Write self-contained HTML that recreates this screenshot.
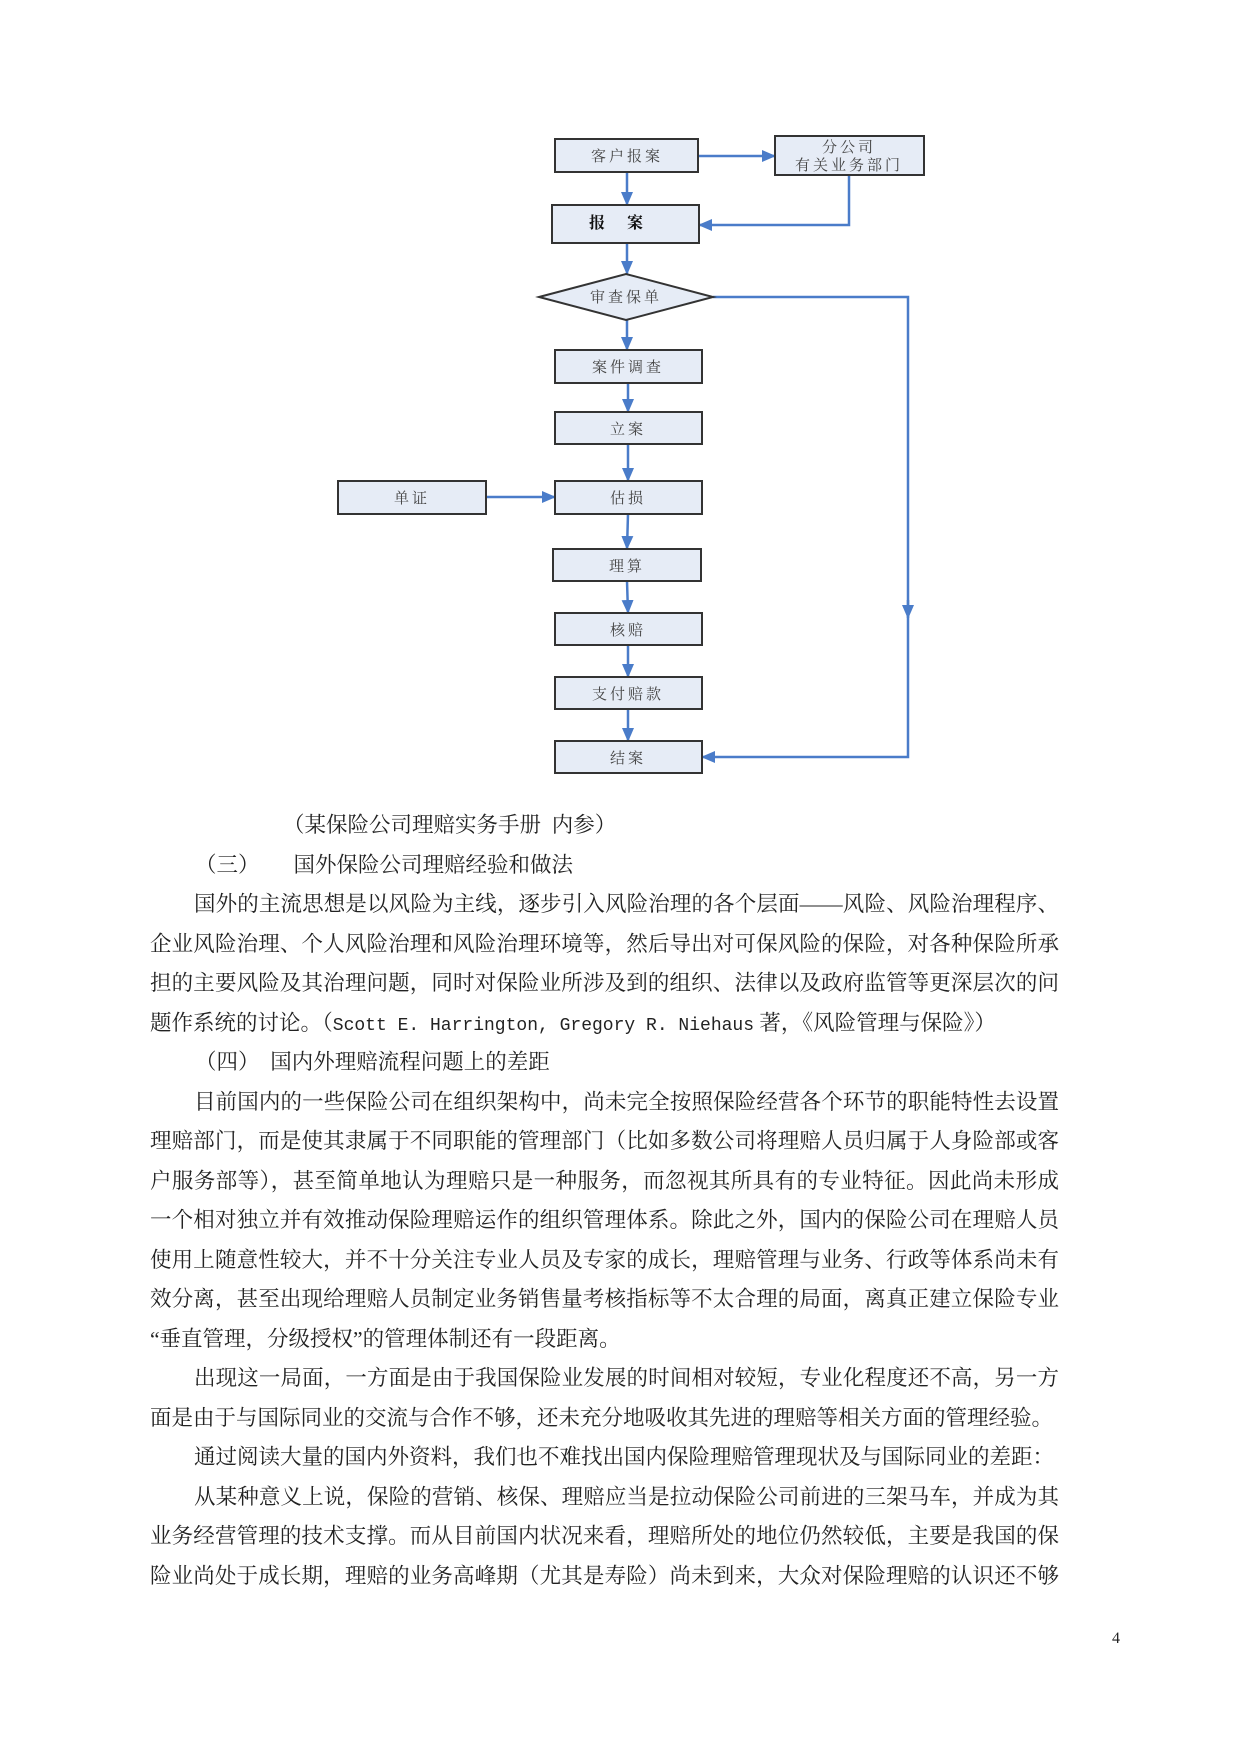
<!DOCTYPE html>
<html><head><meta charset="utf-8"><style>
html,body{margin:0;padding:0;background:#fff;}
body{width:1241px;height:1754px;position:relative;overflow:hidden;font-family:"Liberation Serif","Noto Serif CJK SC",serif;color:#222;}
.l{position:absolute;left:150px;width:909px;font-size:21.5px;line-height:40px;height:40px;white-space:nowrap;}
.j{text-align:justify;text-align-last:justify;}
.m{font-family:"Liberation Mono",monospace;font-size:18px;}
svg text{font-family:"Liberation Serif","Noto Serif CJK SC",serif;font-size:15px;fill:#444;letter-spacing:3px;text-anchor:middle;}
</style></head><body>
<svg width="1241" height="800" style="position:absolute;left:0;top:0">
<defs>
<marker id="b" markerWidth="14" markerHeight="12" refX="13" refY="6" orient="auto" markerUnits="userSpaceOnUse"><path d="M0,0 L14,6 L0,12 z" fill="#4a7cc9"/></marker></defs>
<g stroke="#4a7cc9" stroke-width="2.5" fill="none">
<path d="M698,156 L775,156" marker-end="url(#b)"/>
<path d="M849,175 L849,225 L699,225" marker-end="url(#b)"/>
<path d="M627,172 L627,205" marker-end="url(#b)"/>
<path d="M627,243 L627,274" marker-end="url(#b)"/>
<path d="M627,320 L627,350" marker-end="url(#b)"/>
<path d="M713,297 L908,297 L908,757 L702,757" marker-end="url(#b)"/>
<path d="M908,600 L908,618" marker-end="url(#b)"/>
<path d="M628,383 L628,412" marker-end="url(#b)"/>
<path d="M628,444 L628,481" marker-end="url(#b)"/>
<path d="M486,497 L555,497" marker-end="url(#b)"/>
<path d="M628,514 L627,549" marker-end="url(#b)"/>
<path d="M627,581 L628,613" marker-end="url(#b)"/>
<path d="M628,645 L628,677" marker-end="url(#b)"/>
<path d="M628,709 L628,741" marker-end="url(#b)"/>
</g>
<g fill="#e6ecf6" stroke="#333" stroke-width="2">
<rect x="555" y="139" width="143" height="33"/>
<rect x="775" y="136" width="149" height="39"/>
<rect x="552" y="205" width="147" height="38"/>
<polygon points="539,297 626,274 713,297 626,320"/>
<rect x="555" y="350" width="147" height="33"/>
<rect x="555" y="412" width="147" height="32"/>
<rect x="338" y="481" width="148" height="33"/>
<rect x="555" y="481" width="147" height="33"/>
<rect x="553" y="549" width="148" height="32"/>
<rect x="555" y="613" width="147" height="32"/>
<rect x="555" y="677" width="147" height="32"/>
<rect x="555" y="741" width="147" height="32"/>
</g>
<text x="627" y="161">客户报案</text>
<text x="849" y="152">分公司</text>
<text x="849" y="170">有关业务部门</text>
<text x="627" y="228" style="font-weight:bold;fill:#111;font-size:16px;letter-spacing:22px">报案</text>
<text x="626" y="302">审查保单</text>
<text x="628" y="372">案件调查</text>
<text x="628" y="434">立案</text>
<text x="412" y="503">单证</text>
<text x="628" y="503">估损</text>
<text x="627" y="571">理算</text>
<text x="628" y="635">核赔</text>
<text x="628" y="699">支付赔款</text>
<text x="628" y="763">结案</text>
</svg>
<div class="l" style="top:805px;left:283px;width:auto">（某保险公司理赔实务手册&nbsp;&nbsp;内参）</div>
<div class="l" style="top:844.5px;left:195px;width:auto">（三）<span style="display:inline-block;width:34px"></span>国外保险公司理赔经验和做法</div>
<div class="l j" style="top:884px;left:194px;width:865px">国外的主流思想是以风险为主线，逐步引入风险治理的各个层面——风险、风险治理程序、</div>
<div class="l j" style="top:923.5px">企业风险治理、个人风险治理和风险治理环境等，然后导出对可保风险的保险，对各种保险所承</div>
<div class="l j" style="top:963px">担的主要风险及其治理问题，同时对保险业所涉及到的组织、法律以及政府监管等更深层次的问</div>
<div class="l j" style="top:1002.5px;width:836px">题作系统的讨论。（<span class="m">Scott E. Harrington, Gregory R. Niehaus</span> 著，《风险管理与保险》）</div>
<div class="l" style="top:1042px;left:195px;width:auto">（四）&nbsp;&nbsp;国内外理赔流程问题上的差距</div>
<div class="l j" style="top:1081.5px;left:194px;width:865px">目前国内的一些保险公司在组织架构中，尚未完全按照保险经营各个环节的职能特性去设置</div>
<div class="l j" style="top:1121px">理赔部门，而是使其隶属于不同职能的管理部门（比如多数公司将理赔人员归属于人身险部或客</div>
<div class="l j" style="top:1160.5px">户服务部等），甚至简单地认为理赔只是一种服务，而忽视其所具有的专业特征。因此尚未形成</div>
<div class="l j" style="top:1200px">一个相对独立并有效推动保险理赔运作的组织管理体系。除此之外，国内的保险公司在理赔人员</div>
<div class="l j" style="top:1239.5px">使用上随意性较大，并不十分关注专业人员及专家的成长，理赔管理与业务、行政等体系尚未有</div>
<div class="l j" style="top:1279px">效分离，甚至出现给理赔人员制定业务销售量考核指标等不太合理的局面，离真正建立保险专业</div>
<div class="l" style="top:1318.5px">“垂直管理，分级授权”的管理体制还有一段距离。</div>
<div class="l j" style="top:1358px;left:194px;width:865px">出现这一局面，一方面是由于我国保险业发展的时间相对较短，专业化程度还不高，另一方</div>
<div class="l j" style="top:1397.5px;width:902px">面是由于与国际同业的交流与合作不够，还未充分地吸收其先进的理赔等相关方面的管理经验。</div>
<div class="l j" style="top:1437px;left:194px;width:858px">通过阅读大量的国内外资料，我们也不难找出国内保险理赔管理现状及与国际同业的差距：</div>
<div class="l j" style="top:1476.5px;left:194px;width:865px">从某种意义上说，保险的营销、核保、理赔应当是拉动保险公司前进的三架马车，并成为其</div>
<div class="l j" style="top:1516px">业务经营管理的技术支撑。而从目前国内状况来看，理赔所处的地位仍然较低，主要是我国的保</div>
<div class="l j" style="top:1555.5px">险业尚处于成长期，理赔的业务高峰期（尤其是寿险）尚未到来，大众对保险理赔的认识还不够</div>
<div style="position:absolute;left:1112px;top:1630px;font-size:16px;">4</div>
</body></html>
